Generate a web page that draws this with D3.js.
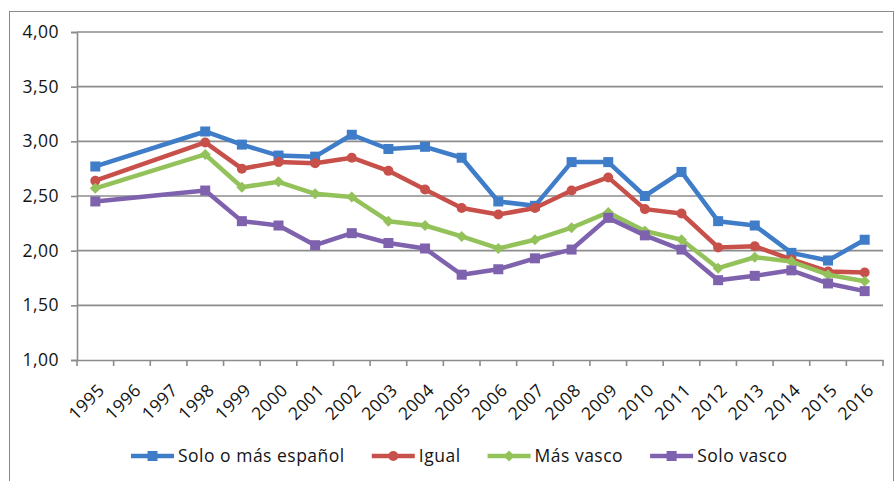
<!DOCTYPE html>
<html>
<head>
<meta charset="utf-8">
<script src="https://cdn.jsdelivr.net/npm/d3@7"></script>
<style>
  html, body { margin: 0; padding: 0; background: #fff; }
  svg { display: block; font-family: "Open Sans", "DejaVu Sans", sans-serif; }
</style>
</head>
<body>
<svg id="chart" width="895" height="481"></svg>
<script>
const years = ["1995","1996","1997","1998","1999","2000","2001","2002","2003","2004","2005","2006","2007","2008","2009","2010","2011","2012","2013","2014","2015","2016"];
const yTicks = [1.0, 1.5, 2.0, 2.5, 3.0, 3.5, 4.0];

const soloOMasEspanol = [2.77, null, null, 3.09, 2.97, 2.87, 2.86, 3.06, 2.93, 2.95, 2.85, 2.45, 2.41, 2.81, 2.81, 2.50, 2.72, 2.27, 2.23, 1.98, 1.91, 2.10];
const igual           = [2.64, null, null, 2.99, 2.75, 2.81, 2.80, 2.85, 2.73, 2.56, 2.39, 2.33, 2.39, 2.55, 2.67, 2.38, 2.34, 2.03, 2.04, 1.92, 1.81, 1.80];
const masVasco        = [2.57, null, null, 2.88, 2.58, 2.63, 2.52, 2.49, 2.27, 2.23, 2.13, 2.02, 2.10, 2.21, 2.35, 2.18, 2.10, 1.84, 1.94, 1.90, 1.78, 1.72];
const soloVasco       = [2.45, null, null, 2.55, 2.27, 2.23, 2.05, 2.16, 2.07, 2.02, 1.78, 1.83, 1.93, 2.01, 2.30, 2.14, 2.01, 1.73, 1.77, 1.82, 1.70, 1.63];

const seriesNames = ["Solo o más español", "Igual", "Más vasco", "Solo vasco"];
const seriesValues = [soloOMasEspanol, igual, masVasco, soloVasco];
const seriesColors = ["#3f7dc8", "#c8504b", "#93c25a", "#7f62ad"];
const seriesMarkers = ["square", "circle", "diamond", "square"];

const svg = d3.select("#chart");
const plotLeft = 77, plotRight = 883, plotTop = 32, plotBottom = 360;
const textColor = "#141414";
const fontSize = 17.5;
const spacing = "0.5px";

// outer frame
svg.append("rect").attr("x", 9.5).attr("y", 11.5).attr("width", 884).attr("height", 520)
  .attr("fill", "none").attr("stroke", "#8a8a8a").attr("stroke-width", 1);

const x = d3.scaleBand().domain(years).range([plotLeft, plotRight]).padding(0);
const y = d3.scaleLinear().domain([1, 4]).range([plotBottom, plotTop]);
const cx = d => x(d) + x.bandwidth() / 2;

const gridColor = "#8c8c8c";

// gridlines
svg.append("g").selectAll("line").data(yTicks.filter(t => t > 1)).join("line")
  .attr("x1", plotLeft).attr("x2", plotRight)
  .attr("y1", d => y(d)).attr("y2", d => y(d))
  .attr("stroke", gridColor).attr("stroke-width", 1.6);

// y axis
const yAxis = d3.axisLeft(y).tickValues(yTicks).tickSize(6).tickPadding(12)
  .tickFormat(d => d3.format(".2f")(d).replace(".", ","));
const gy = svg.append("g").attr("transform", `translate(${plotLeft},0)`).call(yAxis);
gy.select(".domain").attr("stroke", gridColor).attr("stroke-width", 1.6);
gy.selectAll(".tick line").attr("stroke", gridColor).attr("stroke-width", 1.6);
gy.selectAll(".tick text").attr("font-size", fontSize).attr("fill", textColor)
  .attr("font-family", "'Open Sans', sans-serif").style("letter-spacing", spacing);

// x axis
const xAxis = d3.axisBottom(x).tickSize(0).tickPadding(0);
const gx = svg.append("g").attr("transform", `translate(0,${plotBottom})`).call(xAxis);
gx.select(".domain").attr("stroke", gridColor).attr("stroke-width", 1.6);
gx.selectAll(".tick text")
  .attr("font-size", fontSize).attr("fill", textColor)
  .attr("font-family", "'Open Sans', sans-serif")
  .style("letter-spacing", spacing)
  .attr("text-anchor", "end")
  .attr("transform", "translate(6,27) rotate(-45)")
  .attr("dy", "0.35em").attr("y", 0).attr("x", 0);
// boundary tick marks
const bounds = years.map(d => x(d)).concat([plotRight]);
svg.append("g").selectAll("line").data(bounds).join("line")
  .attr("x1", d => d).attr("x2", d => d)
  .attr("y1", plotBottom).attr("y2", plotBottom + 6)
  .attr("stroke", gridColor).attr("stroke-width", 1.6);

// series
function drawMarker(g, type, color, px, py) {
  if (type === "square") {
    g.append("rect").attr("x", px - 5).attr("y", py - 5).attr("width", 10).attr("height", 10).attr("fill", color);
  } else if (type === "circle") {
    g.append("circle").attr("cx", px).attr("cy", py).attr("r", 5).attr("fill", color);
  } else {
    g.append("path").attr("d", `M${px},${py-5.5}L${px+5.5},${py}L${px},${py+5.5}L${px-5.5},${py}Z`).attr("fill", color);
  }
}

const line = d3.line().x(d => cx(d.year)).y(d => y(d.v));
seriesValues.forEach((vals, i) => {
  const pts = years.map((yr, j) => ({ year: yr, v: vals[j] })).filter(d => d.v !== null);
  const g = svg.append("g");
  g.append("path").datum(pts).attr("d", line)
    .attr("fill", "none").attr("stroke", seriesColors[i]).attr("stroke-width", 4.5)
    .attr("stroke-linejoin", "round");
  pts.forEach(p => drawMarker(g, seriesMarkers[i], seriesColors[i], cx(p.year), y(p.v)));
});

// legend
const legY = 456;
let lx = 131;
seriesNames.forEach((name, i) => {
  const g = svg.append("g");
  g.append("line").attr("x1", lx).attr("x2", lx + 43).attr("y1", legY).attr("y2", legY)
    .attr("stroke", seriesColors[i]).attr("stroke-width", 4.5);
  drawMarker(g, seriesMarkers[i], seriesColors[i], lx + 21.5, legY);
  const t = g.append("text").attr("x", lx + 47).attr("y", legY).attr("dy", "0.35em")
    .attr("font-size", fontSize).attr("fill", textColor).style("letter-spacing", spacing).text(name);
  const w = t.node().getComputedTextLength();
  lx = lx + 47 + w + 27;
});
</script>
</body>
</html>
